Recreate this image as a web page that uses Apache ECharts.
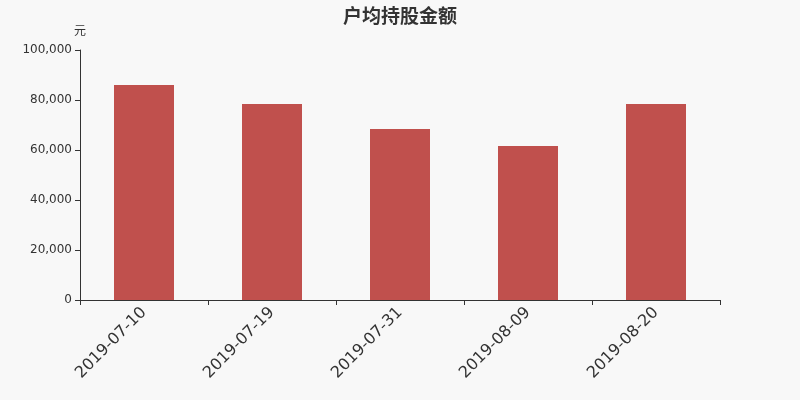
<!DOCTYPE html>
<html><head><meta charset="utf-8">
<script src="https://cdn.jsdelivr.net/npm/echarts@6/dist/echarts.min.js"></script>
<style>html,body{margin:0;padding:0;background:#f8f8f8}#c{width:800px;height:400px}</style>
</head><body><div id="c"></div>
<script>
var categories = ['2019-07-10','2019-07-19','2019-07-31','2019-08-09','2019-08-20'];
var values = [86000, 78400, 68400, 61600, 78400];
var chart = echarts.init(document.getElementById('c'));
chart.setOption({
  backgroundColor: '#f8f8f8',
  animation: false,
  title: { text: '户均持股金额', left: 'center', top: 1,
    textStyle: { fontSize: 19, fontWeight: 'bold', color: '#333', fontFamily: 'Noto Sans CJK SC' } },
  grid: { left: 80, right: 80, top: 50, bottom: 100 },
  xAxis: { type: 'category', data: categories,
    axisLine: { lineStyle: { color: '#333' } },
    axisTick: { show: true, alignWithLabel: false, lineStyle: { color: '#333' } },
    axisLabel: { rotate: 45, fontSize: 16, color: '#333', margin: 10, fontFamily: 'DejaVu Sans' } },
  yAxis: { type: 'value', min: 0, max: 100000, interval: 20000, name: '元',
    nameGap: 14, nameTextStyle: { color: '#333', fontSize: 12, align: 'center', fontFamily: 'Noto Sans CJK SC' },
    axisLine: { show: true, lineStyle: { color: '#333' } },
    axisTick: { show: true, lineStyle: { color: '#333' } },
    splitLine: { show: false },
    axisLabel: { color: '#333', fontSize: 12, fontFamily: 'DejaVu Sans',
      formatter: function (v) { return v.toLocaleString('en-US'); } } },
  series: [{ type: 'bar', data: values, barWidth: 60, itemStyle: { color: '#c0504d' } }]
});
</script></body></html>
